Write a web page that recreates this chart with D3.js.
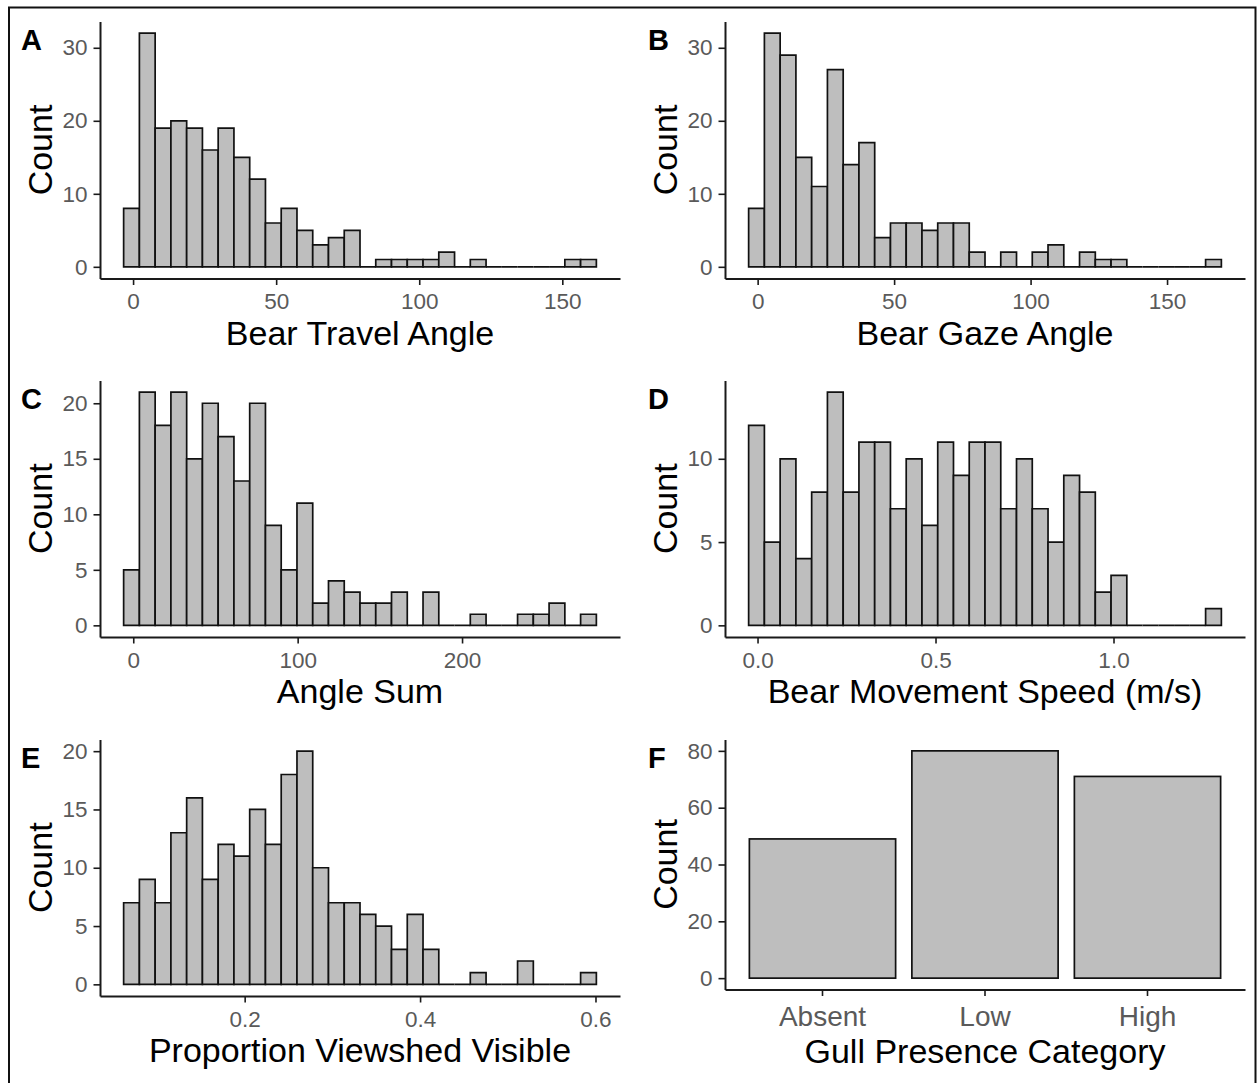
<!DOCTYPE html>
<html>
<head>
<meta charset="utf-8">
<script src="https://cdn.jsdelivr.net/npm/d3@7"></script>
<style>
  body { margin: 0; background: #fff; }
  svg { display: block; font-family: "Liberation Sans", Arial, sans-serif; }
  .axis path, .axis line { stroke: #1a1a1a; }
  .axis text { fill: #5a5a5a; }
</style>
</head>
<body>
<div id="chart"></div>
<script>
// counts per histogram bin (30 bins each)
var travelCounts = [8, 32, 19, 20, 19, 16, 19, 15, 12, 6, 8, 5, 3, 4, 5, 0, 1, 1, 1, 1, 2, 0, 1, 0, 0, 0, 0, 0, 1, 1];
var gazeCounts   = [8, 32, 29, 15, 11, 27, 14, 17, 4, 6, 6, 5, 6, 6, 2, 0, 2, 0, 2, 3, 0, 2, 1, 1, 0, 0, 0, 0, 0, 1];
var sumCounts    = [5, 21, 18, 21, 15, 20, 17, 13, 20, 9, 5, 11, 2, 4, 3, 2, 2, 3, 0, 3, 0, 0, 1, 0, 0, 1, 1, 2, 0, 1];
var speedCounts  = [12, 5, 10, 4, 8, 14, 8, 11, 11, 7, 10, 6, 11, 9, 11, 11, 7, 10, 7, 5, 9, 8, 2, 3, 0, 0, 0, 0, 0, 1];
var viewCounts   = [7, 9, 7, 13, 16, 9, 12, 11, 15, 12, 18, 20, 10, 7, 7, 6, 5, 3, 6, 3, 0, 0, 1, 0, 0, 2, 0, 0, 0, 1];

// left edge of first bin, right edge of last bin
var travelRange = [-3.3, 161.9];
var gazeRange   = [-3.3, 169.9];
var sumRange    = [-5.85, 281.7];
var speedRange  = [-0.025, 1.303];
var viewRange   = [0.062, 0.601];

var gullCategories = ["Absent", "Low", "High"];
var gullCounts     = [49, 80, 71];

// tick labels
var travelTicks = [0, 50, 100, 150];
var gazeTicks   = [0, 50, 100, 150];
var sumTicks    = [0, 100, 200];
var speedTicks  = [0, 0.5, 1.0];
var viewTicks   = [0.2, 0.4, 0.6];
var yTicks30 = [0, 10, 20, 30];
var yTicks20 = [0, 5, 10, 15, 20];
var yTicks10 = [0, 5, 10];
var yTicks80 = [0, 20, 40, 60, 80];

var width = 1257, height = 1083;

var svg = d3.select("#chart").append("svg")
    .attr("width", width)
    .attr("height", height);

// outer frame
svg.append("rect")
    .attr("x", 9).attr("y", 7.5)
    .attr("width", 1246.5).attr("height", 1100)
    .attr("fill", "none").attr("stroke", "#111").attr("stroke-width", 2);

var cols = [
    {x0: 100, x1: 620, letterX: 21, countX: 52},
    {x0: 725, x1: 1245, letterX: 648, countX: 677}
];
var rows = [
    {top: 21.5, bottom: 278.5, letterY: 50},
    {top: 380.5, bottom: 637, letterY: 409},
    {top: 739.5, bottom: 996, letterY: 768}
];

var panels = [
    {letter: "A", counts: travelCounts, range: travelRange, ticks: travelTicks, fmt: "d", yTicks: yTicks30, title: "Bear Travel Angle", col: 0, row: 0},
    {letter: "B", counts: gazeCounts, range: gazeRange, ticks: gazeTicks, fmt: "d", yTicks: yTicks30, title: "Bear Gaze Angle", col: 1, row: 0},
    {letter: "C", counts: sumCounts, range: sumRange, ticks: sumTicks, fmt: "d", yTicks: yTicks20, title: "Angle Sum", col: 0, row: 1},
    {letter: "D", counts: speedCounts, range: speedRange, ticks: speedTicks, fmt: ".1f", yTicks: yTicks10, title: "Bear Movement Speed (m/s)", col: 1, row: 1},
    {letter: "E", counts: viewCounts, range: viewRange, ticks: viewTicks, fmt: ".1f", yTicks: yTicks20, title: "Proportion Viewshed Visible", col: 0, row: 2}
];

function drawYAxis(g, y, ticks, c) {
    g.append("g")
        .attr("class", "axis")
        .attr("transform", "translate(" + c.x0 + ",0)")
        .call(d3.axisLeft(y).tickValues(ticks).tickFormat(d3.format("d"))
            .tickSizeInner(6.5).tickSizeOuter(0).tickPadding(6))
        .call(function(a) {
            a.select(".domain").attr("stroke-width", 2);
            a.selectAll(".tick line").attr("stroke-width", 1.6);
            a.selectAll("text").attr("font-size", 22.5);
        });
}

function drawLabels(g, c, r, p, bottom, titleOffset) {
    g.append("text")
        .attr("x", c.letterX).attr("y", r.letterY)
        .attr("font-size", 29).attr("font-weight", "bold")
        .text(p.letter);

    g.append("text")
        .attr("transform", "translate(" + c.countX + "," + ((r.top + bottom) / 2) + ") rotate(-90)")
        .attr("text-anchor", "middle")
        .attr("font-size", 34)
        .text("Count");

    g.append("text")
        .attr("x", (c.x0 + c.x1) / 2).attr("y", bottom + titleOffset)
        .attr("text-anchor", "middle")
        .attr("font-size", 34)
        .text(p.title);
}

panels.forEach(function(p) {
    var c = cols[p.col], r = rows[p.row];
    var g = svg.append("g");

    var lo = p.range[0], hi = p.range[1];
    var pad = (hi - lo) * 0.05;
    var x = d3.scaleLinear().domain([lo - pad, hi + pad]).range([c.x0, c.x1]);
    var ymax = d3.max(p.counts);
    var y = d3.scaleLinear().domain([-0.05 * ymax, 1.05 * ymax]).range([r.bottom, r.top]);

    var bw = (hi - lo) / p.counts.length;
    var bins = p.counts.map(function(v, i) {
        return {x0: lo + i * bw, x1: lo + (i + 1) * bw, n: v};
    });

    // bars as paths so that empty bins still show their outline on the baseline
    g.selectAll(".bar")
        .data(bins)
        .enter().append("path")
        .attr("class", "bar")
        .attr("d", function(d) {
            var a = x(d.x0), b = x(d.x1), y0 = y(0), y1 = y(d.n);
            return "M" + a + "," + y0 + "V" + y1 + "H" + b + "V" + y0 + "Z";
        })
        .attr("fill", "#bebebe")
        .attr("stroke", "#111")
        .attr("stroke-width", 1.7);

    g.append("g")
        .attr("class", "axis")
        .attr("transform", "translate(0," + r.bottom + ")")
        .call(d3.axisBottom(x).tickValues(p.ticks).tickFormat(d3.format(p.fmt))
            .tickSizeInner(6.5).tickSizeOuter(0).tickPadding(8.5))
        .call(function(a) {
            a.select(".domain").attr("stroke-width", 2);
            a.selectAll(".tick line").attr("stroke-width", 1.6);
            a.selectAll("text").attr("font-size", 22.5);
        });

    drawYAxis(g, y, p.yTicks, c);
    drawLabels(g, c, r, p, r.bottom, 66);
});

// panel F: bar chart of gull presence
(function() {
    var c = cols[1], r = rows[2];
    var bottom = 989.5;
    var g = svg.append("g");

    var x = d3.scaleBand().domain(gullCategories).range([c.x0, c.x1])
        .paddingInner(0.1).paddingOuter(0.15);
    var ymax = d3.max(gullCounts);
    var y = d3.scaleLinear().domain([-0.05 * ymax, 1.05 * ymax]).range([bottom, r.top]);

    g.selectAll(".bar")
        .data(gullCategories)
        .enter().append("rect")
        .attr("class", "bar")
        .attr("x", function(d) { return x(d); })
        .attr("width", x.bandwidth())
        .attr("y", function(d, i) { return y(gullCounts[i]); })
        .attr("height", function(d, i) { return y(0) - y(gullCounts[i]); })
        .attr("fill", "#bebebe")
        .attr("stroke", "#111")
        .attr("stroke-width", 1.7);

    g.append("g")
        .attr("class", "axis")
        .attr("transform", "translate(0," + bottom + ")")
        .call(d3.axisBottom(x).tickSizeInner(6.5).tickSizeOuter(0).tickPadding(10))
        .call(function(a) {
            a.select(".domain").attr("stroke-width", 2);
            a.selectAll(".tick line").attr("stroke-width", 1.6);
            a.selectAll("text").attr("font-size", 28);
        });

    drawYAxis(g, y, yTicks80, c);
    drawLabels(g, c, r, {letter: "F", title: "Gull Presence Category"}, bottom, 73);
})();
</script>
</body>
</html>
